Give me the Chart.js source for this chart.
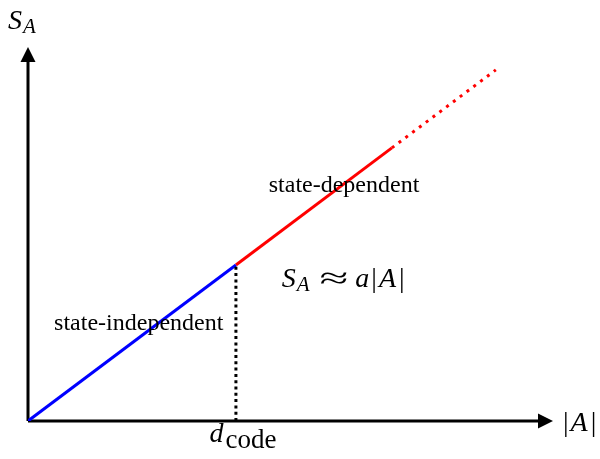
<!DOCTYPE html>
<html>
<head>
<meta charset="utf-8">
<script src="https://cdn.jsdelivr.net/npm/chart.js@4"></script>
<style>
  html, body { margin: 0; padding: 0; background: #fff; }
  #wrap { width: 600px; height: 459px; }
</style>
</head>
<body>
<div id="wrap"><canvas id="chart"></canvas></div>
<script>
// segments of S_A = a|A| (x in units of |A|, y in units of S_A)
const indepX = [0, 4];
const indepY = [0, 3];
const depX = [4, 7];
const depY = [3, 5.25];
const extX = [7, 9];
const extY = [5.25, 6.75];
const dcodeX = [4, 4];
const dcodeY = [0, 3];

const xMax = 10.1;
const yMax = 7.19;

const toPts = (xs, ys) => xs.map((x, i) => ({ x: x, y: ys[i] }));

const SERIF = "'Liberation Serif', 'DejaVu Serif', serif";

// draw a run of text pieces, each with own font, vertical offset and optional x stretch
function drawRun(ctx, pieces, x, y, align) {
  const widthOf = (p) => {
    ctx.font = p.font;
    return ctx.measureText(p.text).width * (p.sx || 1);
  };
  let total = 0;
  pieces.forEach((p) => { total += widthOf(p) + (p.gap || 0); });
  let cx = align === 'center' ? x - total / 2 : x;
  pieces.forEach((p) => {
    const w = widthOf(p);
    ctx.save();
    ctx.translate(cx, y + (p.dy || 0));
    ctx.scale(p.sx || 1, 1);
    ctx.fillText(p.text, 0, 0);
    ctx.restore();
    cx += w + (p.gap || 0);
  });
}

const axesPlugin = {
  id: 'axesArrows',
  beforeDatasetsDraw(chart) {
    const { ctx, scales: { x, y } } = chart;
    const x0 = x.getPixelForValue(0);
    const y0 = y.getPixelForValue(0);
    const xEnd = x.getPixelForValue(xMax);
    const yEnd = y.getPixelForValue(yMax);
    ctx.save();
    ctx.strokeStyle = '#000';
    ctx.fillStyle = '#000';
    ctx.lineWidth = 3;
    ctx.beginPath();
    ctx.moveTo(x0, y0);
    ctx.lineTo(xEnd - 10, y0);
    ctx.moveTo(x0, y0);
    ctx.lineTo(x0, yEnd + 10);
    ctx.stroke();
    ctx.beginPath();
    ctx.moveTo(xEnd, y0);
    ctx.lineTo(xEnd - 15, y0 - 7.5);
    ctx.lineTo(xEnd - 15, y0 + 7.5);
    ctx.closePath();
    ctx.fill();
    ctx.beginPath();
    ctx.moveTo(x0, yEnd);
    ctx.lineTo(x0 - 7.5, yEnd + 15);
    ctx.lineTo(x0 + 7.5, yEnd + 15);
    ctx.closePath();
    ctx.fill();
    ctx.restore();
  },
  afterDatasetsDraw(chart) {
    const { ctx, scales: { x, y } } = chart;
    ctx.save();
    ctx.fillStyle = '#000';
    ctx.textBaseline = 'alphabetic';
    ctx.textAlign = 'left';

    const up = '24px ' + SERIF;
    const it = 'italic 28px ' + SERIF;
    const itSub = 'italic 21px ' + SERIF;
    const mathUp = '28px ' + SERIF;
    const approx = '30px ' + SERIF;

    drawRun(ctx, [{ text: 'state-dependent', font: up }],
      x.getPixelForValue(6.08), y.getPixelForValue(4.56) + 8, 'center');
    drawRun(ctx, [{ text: 'state-independent', font: up }],
      x.getPixelForValue(2.13), y.getPixelForValue(1.9) + 8, 'center');

    drawRun(ctx, [
      { text: 'S', font: it, gap: 1 },
      { text: 'A', font: itSub, dy: 4, gap: 10 },
      { text: '\u2248', font: approx, sx: 1.75, dy: 1, gap: 7 },
      { text: 'a', font: it, gap: 2 },
      { text: '|', font: mathUp, gap: 2 },
      { text: 'A', font: it, gap: 3 },
      { text: '|', font: mathUp }
    ], x.getPixelForValue(4.88), y.getPixelForValue(2.71) + 7, 'left');

    // axis titles
    drawRun(ctx, [
      { text: 'S', font: it, gap: 1 },
      { text: 'A', font: itSub, dy: 4 }
    ], 8, 29, 'left');
    drawRun(ctx, [
      { text: '|', font: mathUp, gap: 2 },
      { text: 'A', font: it, gap: 3 },
      { text: '|', font: mathUp }
    ], 563, 431, 'left');
    drawRun(ctx, [
      { text: 'd', font: it, gap: 2 },
      { text: 'code', font: '27px ' + SERIF, dy: 6 }
    ], x.getPixelForValue(dcodeX[0]) + 7, 442, 'center');
    ctx.restore();
  }
};

new Chart(document.getElementById('chart'), {
  type: 'scatter',
  data: {
    datasets: [
      {
        label: 'd_code',
        data: toPts(dcodeX, dcodeY),
        showLine: true,
        borderColor: '#000',
        borderWidth: 3,
        borderDash: [3, 3.3],
        pointRadius: 0
      },
      {
        label: 'state-independent',
        data: toPts(indepX, indepY),
        showLine: true,
        borderColor: '#0000ff',
        borderWidth: 3,
        pointRadius: 0
      },
      {
        label: 'state-dependent',
        data: toPts(depX, depY),
        showLine: true,
        borderColor: '#ff0000',
        borderWidth: 3,
        pointRadius: 0
      },
      {
        label: 'extrapolation',
        data: toPts(extX, extY),
        showLine: true,
        borderColor: '#ff0000',
        borderWidth: 3,
        borderDash: [3, 5.5],
        pointRadius: 0
      }
    ]
  },
  options: {
    responsive: true,
    maintainAspectRatio: false,
    animation: false,
    layout: { padding: { left: 28, right: 47, top: 47, bottom: 38 } },
    plugins: {
      legend: { display: false },
      tooltip: { enabled: false }
    },
    scales: {
      x: { type: 'linear', min: 0, max: xMax, display: false },
      y: { type: 'linear', min: 0, max: yMax, display: false }
    }
  },
  plugins: [axesPlugin]
});
</script>
</body>
</html>
